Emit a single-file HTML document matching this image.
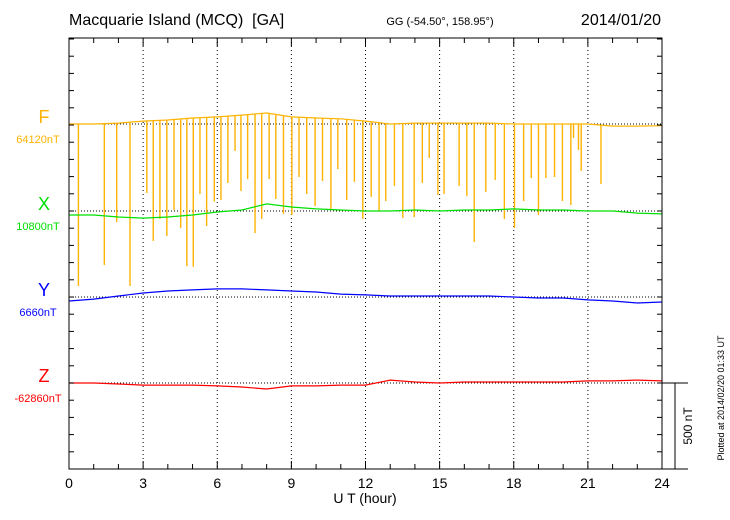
<!DOCTYPE html>
<html><head><meta charset="utf-8"><style>
body{margin:0;background:#fff;}
svg{display:block;font-family:"Liberation Sans",sans-serif;}
</style></head><body>
<svg id="chart" width="730" height="520"></svg>
<script>
const hours=[0,1,2,3,4,5,6,7,8,9,10,11,12,13,14,15,16,17,18,19,20,21,22,23,24];
const fDev=[0,0,5,17,23,35,41,52,64,41,35,30,17,0,5,5,5,5,0,0,0,0,-12,-12,-10];
const xDev=[-23,-23,-35,-41,-35,-23,-6,6,41,23,12,6,0,0,6,0,6,6,12,6,6,0,0,-12,-17];
const yDev=[-23,-12,6,23,35,41,47,47,41,35,29,17,12,6,6,6,6,6,0,-6,-6,-17,-23,-35,-29];
const zDev=[0,0,-6,-12,-12,-12,-17,-23,-35,-17,-17,-12,-12,17,6,0,6,6,6,6,6,12,12,17,12];
const spikeTimes=[0.38,1.43,1.93,2.47,3.15,3.41,3.68,3.96,4.25,4.52,4.77,5.03,5.30,5.57,5.88,6.15,6.43,6.72,6.96,7.23,7.53,7.80,8.10,8.37,8.68,9.02,9.31,9.62,9.96,10.26,10.60,10.88,11.24,11.55,11.89,12.23,12.55,12.82,13.17,13.51,13.97,14.30,14.58,14.93,15.18,15.79,16.10,16.40,16.87,17.25,17.62,18.03,18.40,18.71,19.00,19.30,19.65,19.97,20.31,20.42,20.62,20.73,21.53];
const spikeMins=[-942,-820,-570,-942,-401,-680,-552,-651,-500,-605,-826,-831,-407,-593,-451,-442,-343,-157,-390,-320,-634,-552,-320,-436,-523,-529,-308,-407,-477,-331,-494,-262,-442,-337,-552,-424,-506,-448,-360,-546,-541,-343,-198,-413,-407,-360,-419,-686,-395,-325,-552,-605,-448,-314,-529,-314,-308,-448,-471,-81,-151,-273,-349];
const xTicks=[0,3,6,9,12,15,18,21,24];

const NS="http://www.w3.org/2000/svg";
const svg=document.getElementById('chart');
const L=69,R=662,T=38,B=469;
const pxPerNT=86/500;
const xs=h=>L+(R-L)*h/24;
const ys=(base,dev)=>base-dev*pxPerNT;
function el(tag,attrs,parent){const e=document.createElementNS(NS,tag);for(const k in attrs)e.setAttribute(k,attrs[k]);(parent||svg).appendChild(e);return e;}
function txt(s,attrs){const e=el('text',attrs);e.textContent=s;return e;}

let t=txt('Macquarie Island (MCQ) \u00a0[GA]',{x:69,y:25,'font-size':16});

t=txt('GG (-54.50°, 158.95°)',{x:440,y:25,'font-size':11,'text-anchor':'middle'});

t=txt('2014/01/20',{x:661,y:25,'font-size':16,'text-anchor':'end'});


for(let h=3;h<24;h+=3){const g=el('line',{x1:xs(h),x2:xs(h),y1:T,y2:B,stroke:'#000','stroke-width':1,'stroke-dasharray':'1,3'});
}

const series=[
 {name:'F',base:124,dev:fDev,color:'#ffb300',val:'64120nT'},
 {name:'X',base:211,dev:xDev,color:'#00e000',val:'10800nT'},
 {name:'Y',base:297,dev:yDev,color:'#0000ff',val:'6660nT'},
 {name:'Z',base:383,dev:zDev,color:'#ff0000',val:'-62860nT'}];
function interp(arr,h){let i=Math.min(Math.floor(h),23);const f=h-i;return arr[i]*(1-f)+arr[i+1]*f;}

series.forEach(s=>{
 const bl=el('line',{x1:L,x2:R,y1:s.base,y2:s.base,stroke:'#000','stroke-width':1,'stroke-dasharray':'1,2'});
 
 let lt=txt(s.name,{x:44,y:s.base-1,'font-size':18,fill:s.color,'text-anchor':'middle'});
 
 lt=txt(s.val,{x:38,y:s.base+19,'font-size':11,fill:s.color,'text-anchor':'middle'});
 
});
spikeTimes.forEach((h,i)=>{
 const sp=el('line',{x1:xs(h),x2:xs(h),y1:ys(124,interp(fDev,h)),y2:ys(124,spikeMins[i]),stroke:'#ffb300','stroke-width':1.4});
 
});
series.forEach(s=>{
 const pts=hours.map((h,i)=>xs(h).toFixed(1)+','+ys(s.base,s.dev[i]).toFixed(1)).join(' ');
 const p=el('polyline',{points:pts,fill:'none',stroke:s.color,'stroke-width':1.2});
 
});

const fr=el('rect',{x:L,y:T,width:R-L,height:B-T,fill:'none',stroke:'#000','stroke-width':1});

for(let h=0;h<=24;h++){const len=h%3===0?8:5;
 el('line',{x1:xs(h),x2:xs(h),y1:B,y2:B-len,stroke:'#000'});
 el('line',{x1:xs(h),x2:xs(h),y1:T,y2:T+len,stroke:'#000'});}
xTicks.forEach(h=>{const tl=txt(String(h),{x:xs(h),y:488,'font-size':14,'text-anchor':'middle'});
 });
t=txt('U T (hour)',{x:365,y:503,'font-size':14,'text-anchor':'middle'});

for(let y=B;y>T;y-=100*pxPerNT){el('line',{x1:L,x2:L+5,y1:y,y2:y,stroke:'#000'});el('line',{x1:R,x2:R-5,y1:y,y2:y,stroke:'#000'});}
const sb=el('g',{});

el('line',{x1:R,x2:688,y1:383,y2:383,stroke:'#000'},sb);
el('line',{x1:R,x2:688,y1:B,y2:B,stroke:'#000'},sb);
el('line',{x1:675,x2:675,y1:383,y2:B,stroke:'#000'},sb);
t=txt('500 nT',{x:0,y:0,'font-size':12,'text-anchor':'middle',transform:'translate(692,426) rotate(-90)'});

t=txt('Plotted at 2014/02/20 01:33 UT',{x:0,y:0,'font-size':9,'text-anchor':'middle',transform:'translate(724,398) rotate(-90)'});

</script>
</body></html>
